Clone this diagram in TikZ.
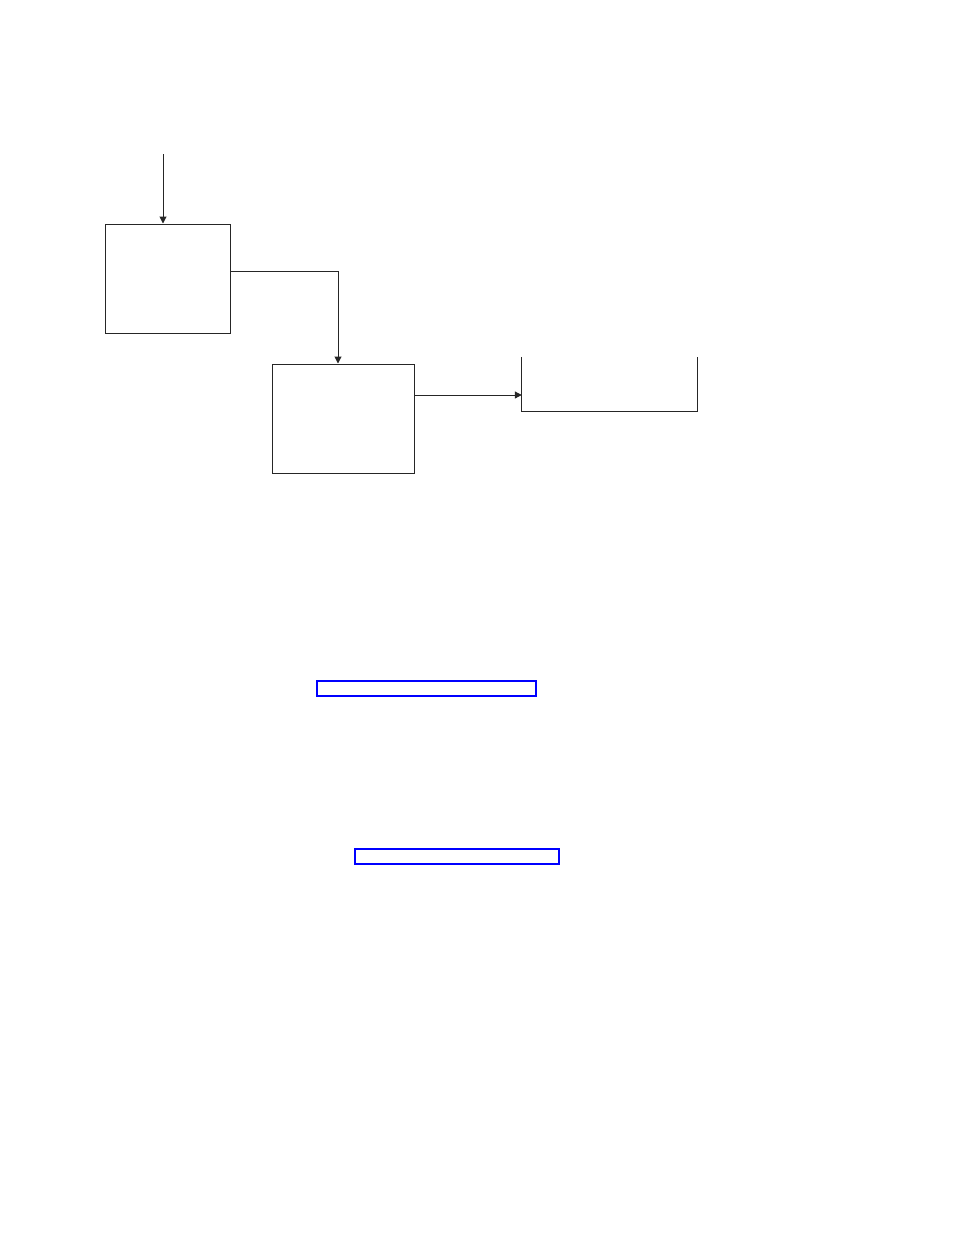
\documentclass[tikz,border=0pt]{standalone}
\usetikzlibrary{arrows.meta}
\begin{document}
\begin{tikzpicture}[x=1pt,y=-1pt,
  box/.style={draw=black!85,line width=1pt,rectangle,inner sep=0pt},
  conn/.style={draw=black!85,line width=1pt,-{Triangle[length=7pt,width=7pt]}},
  bluebox/.style={draw=blue,line width=2pt,rectangle,inner sep=0pt}]
\useasboundingbox (0,0) rectangle (954,1235);
\node[box,minimum width=125pt,minimum height=109pt] (A) at (167.5,278.5) {};
\node[box,minimum width=142pt,minimum height=109pt] (B) at (343,418.5) {};
\node[rectangle,inner sep=0pt,minimum width=175pt,minimum height=54pt] (C) at (609.5,384) {};
\draw[draw=black!85,line width=1pt] (C.north west) -- (C.south west) -- (C.south east) -- (C.north east);
\coordinate (in) at (163,154);
\draw[conn] (in) -- (in |- A.north);
\draw[conn] (A.east |- 0,271) -| (B.north -| 338,0);
\draw[conn] (B.east |- 0,395) -- (C.west |- 0,395);
\node[bluebox,minimum width=219pt,minimum height=15pt] (L1) at (426.5,688.5) {};
\node[bluebox,line width=1.6pt,minimum width=204pt,minimum height=15pt] (L2) at (457,856.5) {};
\end{tikzpicture}
\end{document}
